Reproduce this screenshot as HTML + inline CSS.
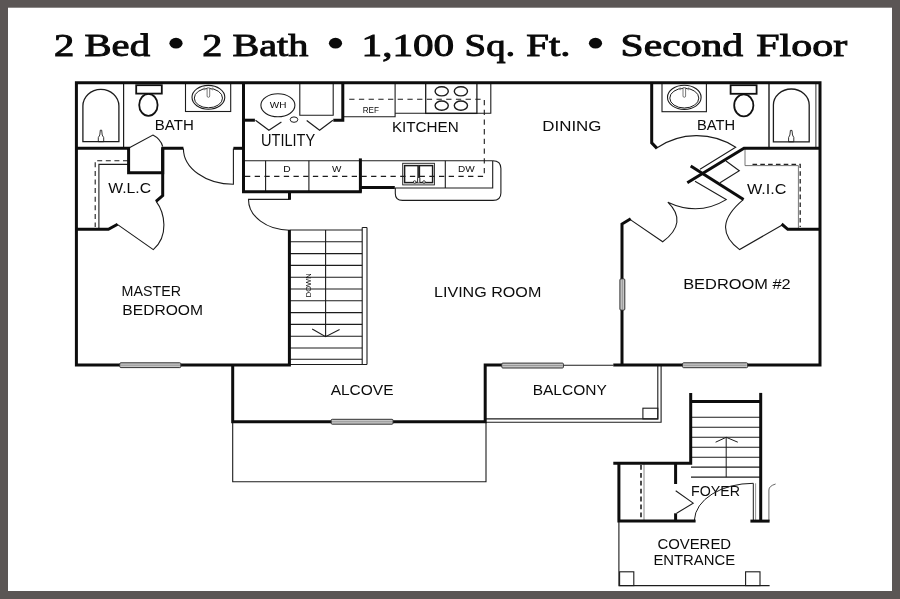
<!DOCTYPE html>
<html><head><meta charset="utf-8"><title>Floor Plan</title>
<style>
html,body{margin:0;padding:0;background:#5b5655;}
body{width:900px;height:599px;overflow:hidden;font-family:"Liberation Sans",sans-serif;}
svg{display:block;}
.lbl{font-family:"Liberation Sans",sans-serif;fill:#0c0c0c;filter:grayscale(1);}
.ttl{font-family:"Liberation Serif",serif;font-weight:normal;fill:#0a0a0a;stroke:#0a0a0a;stroke-width:0.95px;filter:grayscale(1);}
</style></head><body>
<svg width="900" height="599" viewBox="0 0 900 599">
<rect x="0" y="0" width="900" height="599" fill="#5b5655"/>
<rect x="8" y="7.7" width="884" height="583.3" fill="#ffffff"/>

<!-- TITLE -->
<g class="ttl" font-size="32.5">
<text x="54" y="55.8" textLength="96" lengthAdjust="spacingAndGlyphs">2 Bed</text>
<text x="202.3" y="55.8" textLength="106" lengthAdjust="spacingAndGlyphs">2 Bath</text>
<text x="361.6" y="55.8" textLength="92.6" lengthAdjust="spacingAndGlyphs">1,100</text>
<text x="464.6" y="55.8" textLength="50.6" lengthAdjust="spacingAndGlyphs">Sq.</text>
<text x="526.3" y="55.8" textLength="44.2" lengthAdjust="spacingAndGlyphs">Ft.</text>
<text x="620.6" y="55.8" textLength="122.6" lengthAdjust="spacingAndGlyphs">Second</text>
<text x="756.3" y="55.8" textLength="90.8" lengthAdjust="spacingAndGlyphs">Floor</text>
</g>
<g fill="#0a0a0a">
<ellipse cx="176" cy="43.2" rx="6.6" ry="5.4"/>
<ellipse cx="335.5" cy="43.2" rx="6.6" ry="5.4"/>
<ellipse cx="595.5" cy="43.2" rx="6.6" ry="5.4"/>
</g>

<!-- THIN LINES -->
<g id="thin" fill="none" stroke="#1c1c1c" stroke-width="1.1">
<!-- tub 1 -->
<path d="M123.6,83 V148" stroke-width="1.2"/>
<path d="M82.9,141.7 V106 A18,16.7 0 0 1 118.9,106 V141.7 Z" stroke-width="1.3"/>
<path d="M100.3,130.2 H101.7 L102.2,135 L103.7,137.6 V141.7 H98.3 V137.6 L99.8,135 Z" stroke-width="0.9"/>
<!-- sink 1 -->
<rect x="185.5" y="83" width="45.2" height="28.5"/>
<ellipse cx="208.4" cy="97.3" rx="16.4" ry="11.9" stroke-width="1.1"/>
<ellipse cx="208.4" cy="98.1" rx="14.1" ry="9.7" stroke-width="1"/>
<path d="M207.1,87.9 H209.7 V96 A1.3,1.3 0 0 1 207.1,96 Z" stroke-width="0.8" fill="#fff" stroke="#555"/>
<circle cx="204.2" cy="88.9" r="1" stroke="#888" stroke-width="0.8"/><circle cx="212.6" cy="88.9" r="1" stroke="#888" stroke-width="0.8"/>
<!-- WLC shelf -->
<path d="M128,164.4 H98.9 V229"/>
<path d="M128,160.7 H95.2 V227" stroke-dasharray="5 3.6"/>
<!-- WLC upper door -->
<path d="M128.9,148 L152.9,135.1 Q160.5,139 162.7,146.5" stroke-width="1.1"/>
<!-- WLC lower door -->
<path d="M117.3,224.4 L153.3,249.6 C169,236 165,213 156,201.1" stroke-width="1.1"/>
<!-- bath 1 door -->
<path d="M233.4,148.4 V184.2 A50,35.8 0 0 1 183.4,148.4" stroke-width="1.1"/>
<!-- utility -->
<ellipse cx="277.9" cy="105.3" rx="17" ry="11.5" stroke-width="1.1"/>
<ellipse cx="294" cy="119.6" rx="3.8" ry="2.7" stroke-width="1"/>
<path d="M299.8,83 V115.2 H333.2 V83"/>
<path d="M255.5,120.2 L268.9,130.2 L281.4,122" stroke-width="1.2"/>
<path d="M306.7,120.4 L319.6,130.2 L332.9,120.3" stroke-width="1.2"/>
<!-- D/W counter -->
<path d="M243.5,160.7 H492.7"/>
<path d="M265.6,160.7 V191 M308.9,160.7 V191"/>
<path d="M245,176.4 H484.3 V99.3 H348" stroke-dasharray="5.3 4.4"/>
<!-- door below utility -->
<path d="M289.5,199.4 H248.5 A41,30.8 0 0 0 289.5,230.2" stroke-width="1.1"/>
<!-- kitchen upper -->
<path d="M343,116.8 H395.1 V83"/>
<path d="M395.1,113.2 H490.8 V83"/>
<rect x="425.7" y="83" width="51.2" height="30.4" stroke-width="1.3"/>
<g stroke-width="1.4">
<ellipse cx="441.7" cy="91.3" rx="6.6" ry="4.6"/>
<ellipse cx="460.9" cy="91.3" rx="6.6" ry="4.6"/>
<ellipse cx="441.7" cy="105.6" rx="6.6" ry="4.6"/>
<ellipse cx="460.9" cy="105.6" rx="6.6" ry="4.6"/>
</g>
<!-- kitchen lower counter -->
<path d="M492.7,160.7 Q500.9,160.7 500.9,168.5 V193 Q500.9,200.4 493,200.4 H402.5 Q395.3,200.4 395.3,193.5 V188"/>
<path d="M394.6,188 H492.7 V160.7"/>
<path d="M445.3,160.7 V188"/>
<!-- kitchen sink -->
<rect x="402.7" y="163.3" width="31.7" height="21.6" stroke-width="0.9"/>
<rect x="404.6" y="165.6" width="13.5" height="17" stroke-width="1.5"/>
<rect x="419.4" y="165.6" width="13.2" height="17" stroke-width="1.5"/>
<g stroke-width="0.8" fill="#fff">
<circle cx="414.7" cy="182" r="1.3"/>
<circle cx="424" cy="182" r="1.3"/>
<path d="M417.6,182.5 V178.5 A1.1,1.1 0 0 1 419.8,178.5 V182.5"/>
</g>
<!-- stairs -->
<path d="M289.5,230 H362.2 M289.5,241.8 H362.2 M289.5,253.6 H362.2 M289.5,265.4 H362.2 M289.5,277.2 H362.2 M289.5,289 H362.2 M289.5,300.8 H362.2 M289.5,312.6 H362.2 M289.5,324.4 H362.2 M289.5,336.2 H362.2 M289.5,348 H362.2 M289.5,359.2 H362.2"/>
<path d="M362.2,227.5 V364.5 M367,227.5 V364.5 M362.2,227.5 H367 M289.5,364.5 H367"/>
<path d="M325.6,230 V336.7 M312.2,328.9 L325.6,336.7 L339.6,329.6" stroke-width="1.1"/>
<!-- bath 2 sink -->
<rect x="662" y="83" width="44.4" height="28.7"/>
<ellipse cx="684.3" cy="97.3" rx="16.8" ry="12.1" stroke-width="1.1"/>
<ellipse cx="684.3" cy="98.1" rx="14.5" ry="9.9" stroke-width="1"/>
<path d="M683,87.8 H685.6 V96 A1.3,1.3 0 0 1 683,96 Z" stroke-width="0.8" fill="#fff" stroke="#555"/>
<circle cx="680.1" cy="88.8" r="1" stroke="#888" stroke-width="0.8"/><circle cx="688.5" cy="88.8" r="1" stroke="#888" stroke-width="0.8"/>
<!-- bath 2 tub -->
<path d="M769,83 V148" stroke-width="1.4"/>
<path d="M815.9,83 V148" stroke-width="0.9"/>
<path d="M773.4,141.8 V105 A17.9,16 0 0 1 809.2,105 V141.8 Z" stroke-width="1.3"/>
<path d="M790.4,130.4 H792 L792.5,135 L793.8,137.5 V141.8 H788.6 V137.5 L789.9,135 Z" stroke-width="0.9"/>
<!-- bath 2 door -->
<path d="M656.7,148 A71,71 0 0 1 735.7,147.3 L700,169.3" stroke-width="1.1"/>
<!-- closet bifold -->
<path d="M726,161 L739.3,170.7 L720,182.7" stroke-width="1.1"/>
<!-- bedroom2 entry doors -->
<path d="M695,181.2 L726.2,199.6 Q698.6,216.5 667.8,202.2 Q688.5,222.4 662.7,241.8 L630.3,219.6" stroke-width="1.1"/>
<!-- WIC door -->
<path d="M743.3,199.6 Q709.8,227.5 739.6,249.6 L781.8,225.2" stroke-width="1.1"/>
<!-- WIC shelves -->
<path d="M745,148.5 V165.6 H798.4 V229" stroke="#666" stroke-width="0.9"/>
<path d="M752.5,164.3 H800.2 V227" stroke="#222" stroke-dasharray="4.6 3.2" stroke-width="1.3"/>
<!-- balcony -->
<path d="M563,365.3 H613.3"/>
<path d="M657.8,365 V418.9 H485.5 M661.1,365 V422.2 H485.5"/>
<rect x="642.9" y="408.2" width="14.9" height="10.7"/>
<!-- alcove lower -->
<path d="M232.7,422 V481.7 H486 V422"/>
<!-- foyer stairs -->
<path d="M691,417.3 H760.5 M691,427.3 H760.5 M691,437.3 H760.5 M691,447.3 H760.5 M691,457.2 H760.5 M691,467.1 H760.5 M691,477.1 H760.5"/>
<path d="M726.2,437.3 V477.1 M715.6,442.2 L726.2,437.3 L737.8,442.2" stroke-width="1"/>
<!-- foyer closet -->
<path d="M641,465 V520.5" stroke-dasharray="4.8 3.1" stroke-width="1.5" stroke="#111"/>
<path d="M644,464 V520.5" stroke="#888" stroke-width="1"/>
<path d="M675.7,490.7 L693.2,503.1 L676.6,513.3" stroke-width="1.1"/>
<!-- foyer door -->
<path d="M753.3,521 V483.3 A59,37.7 0 0 0 694.4,520" stroke-width="1"/>
<path d="M755.6,483.3 V521" stroke="#888" stroke-width="0.9"/>
<path d="M768.9,521 V490 Q768.9,486 775.6,484" stroke="#555" stroke-width="0.9"/>
<!-- covered entrance -->
<path d="M618.9,521 V585.6 H769.6"/>
<rect x="619.6" y="571.8" width="14.2" height="13.8"/>
<rect x="745.6" y="571.8" width="14.4" height="13.8"/>
</g>

<!-- MEDIUM: toilets -->
<g fill="none" stroke="#111" stroke-width="1.8">
<rect x="136.2" y="85.2" width="25.6" height="8.4"/>
<ellipse cx="148.4" cy="104.9" rx="9.2" ry="11"/>
<rect x="730.6" y="85.2" width="26" height="8.6"/>
<ellipse cx="743.8" cy="105.4" rx="9.6" ry="11"/>
</g>

<!-- THICK WALLS -->
<g id="thick" fill="none" stroke="#0d0d0d" stroke-width="3" stroke-linejoin="miter" stroke-linecap="butt">
<path d="M289.4,230 V365 H76.4 V82.8 H820 V365 H613.3"/>
<path d="M232.7,365 V421.8 H485.2 V365 H502.5"/>
<path d="M76.4,148.3 H128.6 V172.7 H162.7 V148.3 H183.4"/>
<path d="M162.7,148.3 V195.6 L156,201.4"/>
<path d="M233.4,148.3 H243.5"/>
<path d="M243.5,82.7 V191.8 H361.8"/>
<path d="M360.4,158.4 V191.8"/>
<path d="M360.4,187.6 H394.8"/>
<path d="M243.5,120.2 H254.9"/>
<path d="M333.3,120.2 H342.8 V82.7"/>
<path d="M289.5,191.8 V199.8"/>
<path d="M76.4,229.3 H108.4 L117.6,224.2"/>
<path d="M651.7,82.7 V142.8 L657,148.4"/>
<path d="M820,148.2 H744 L687.3,182.7"/>
<path d="M690.7,166 L743.6,199.6"/>
<path d="M820,229.3 H787.8 L781.6,224"/>
<path d="M622,365 V224 L630.7,218.8"/>
<path d="M613.3,463.3 H690.7 V392.9"/>
<path d="M690.7,401.6 H760.7"/>
<path d="M760.7,392.9 V521.1"/>
<path d="M750.4,521.1 H769.6"/>
<path d="M618.9,463.3 V521.1 H695.6"/>
<path d="M675.6,463.3 V484"/>
<path d="M675.6,513.3 V521.1"/>
</g>

<!-- WINDOWS -->
<g fill="#c6c6c6" stroke="#333" stroke-width="1">
<rect x="119.8" y="362.8" width="61" height="4.8" rx="1"/>
<rect x="331.2" y="419.3" width="61.8" height="4.9" rx="1"/>
<rect x="501.8" y="363.1" width="61.6" height="4.9" rx="1"/>
<rect x="682.6" y="362.8" width="65" height="4.9" rx="1"/>
<rect x="619.9" y="278.9" width="4.9" height="31.2" rx="1"/>
</g>
<g fill="none" stroke="#8c8c8c" stroke-width="0.8">
<path d="M121,365.2 H180 M332,421.75 H392 M503,365.55 H562.5 M683.5,365.25 H746.5 M622.35,280 V309"/>
</g>
<!-- LABELS -->
<g class="lbl" font-size="15.5">
<text x="154.8" y="130.3" textLength="39.0" lengthAdjust="spacingAndGlyphs">BATH</text>
<text x="108.2" y="193.4" textLength="42.8" lengthAdjust="spacingAndGlyphs">W.L.C</text>
<text x="269.8" y="108.3" font-size="9.2" textLength="16.6" lengthAdjust="spacingAndGlyphs">WH</text>
<text x="261.0" y="145.8" font-size="16.2" textLength="54.2" lengthAdjust="spacingAndGlyphs">UTILITY</text>
<text x="362.7" y="113.1" font-size="9.7" textLength="16.2" lengthAdjust="spacingAndGlyphs">REF</text>
<text x="391.9" y="131.9" textLength="66.9" lengthAdjust="spacingAndGlyphs">KITCHEN</text>
<text x="542.3" y="130.5" textLength="59.1" lengthAdjust="spacingAndGlyphs">DINING</text>
<text x="697.0" y="130.3" textLength="38.1" lengthAdjust="spacingAndGlyphs">BATH</text>
<text x="747.0" y="194.2" textLength="39.5" lengthAdjust="spacingAndGlyphs">W.I.C</text>
<text x="283.2" y="172" font-size="9" textLength="7.4" lengthAdjust="spacingAndGlyphs">D</text>
<text x="332" y="172" font-size="9" textLength="9.4" lengthAdjust="spacingAndGlyphs">W</text>
<text x="458.1" y="172.1" font-size="9" textLength="16.7" lengthAdjust="spacingAndGlyphs">DW</text>
<text x="121.6" y="295.8" textLength="59.4" lengthAdjust="spacingAndGlyphs">MASTER</text>
<text x="122.3" y="315.3" textLength="80.7" lengthAdjust="spacingAndGlyphs">BEDROOM</text>
<text x="434.0" y="297.4" textLength="107.3" lengthAdjust="spacingAndGlyphs">LIVING ROOM</text>
<text x="683.2" y="289.4" textLength="107.5" lengthAdjust="spacingAndGlyphs">BEDROOM #2</text>
<text x="330.7" y="394.6" textLength="62.8" lengthAdjust="spacingAndGlyphs">ALCOVE</text>
<text x="532.7" y="394.5" textLength="74.1" lengthAdjust="spacingAndGlyphs">BALCONY</text>
<text x="691.1" y="495.7" textLength="49.0" lengthAdjust="spacingAndGlyphs">FOYER</text>
<text x="657.4" y="548.5" textLength="73.7" lengthAdjust="spacingAndGlyphs">COVERED</text>
<text x="653.4" y="564.5" textLength="81.7" lengthAdjust="spacingAndGlyphs">ENTRANCE</text>
<text transform="translate(310.8,297.2) rotate(-90)" font-size="7.5" textLength="23.8" lengthAdjust="spacingAndGlyphs">DOWN</text>
</g>
</svg>
</body></html>
